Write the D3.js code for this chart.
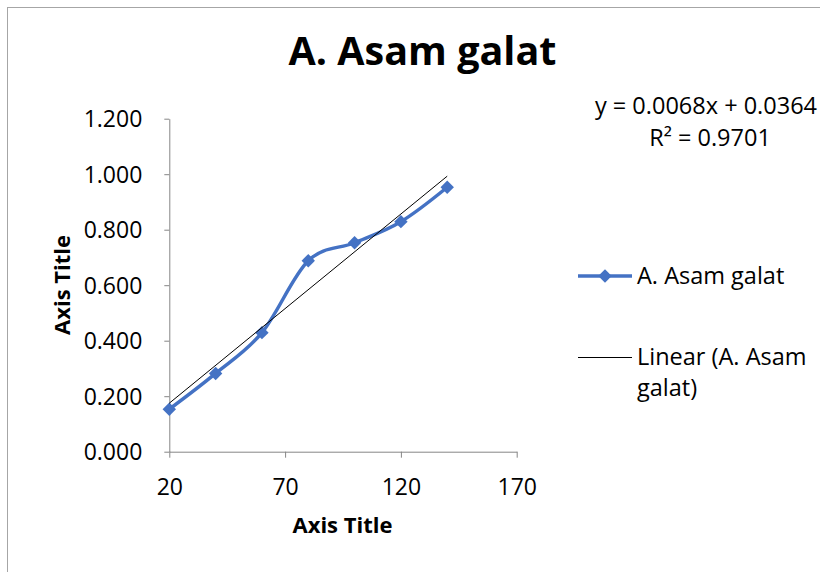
<!DOCTYPE html>
<html>
<head>
<meta charset="utf-8">
<script src="https://cdn.jsdelivr.net/npm/d3@7"></script>
<style>
  html, body { margin: 0; padding: 0; background: #fff; }
  svg { display: block; font-family: "Open Sans", "Noto Sans", sans-serif; }
</style>
</head>
<body>
<svg id="chart" width="820" height="572"></svg>
<script>
// ---- data ----
const xValues = [20, 40, 60, 80, 100, 120, 140];
const yValues = [0.153, 0.282, 0.429, 0.688, 0.753, 0.829, 0.953];
const xTicks = [20, 70, 120, 170];
const yTicks = [0, 0.2, 0.4, 0.6, 0.8, 1.0, 1.2];
const chartTitle = "A. Asam galat";
const seriesName = "A. Asam galat";
const trendName = ["Linear (A. Asam", "galat)"];
const equationText = "y = 0.0068x + 0.0364";
const r2Text = "R² = 0.9701";
const xAxisTitle = "Axis Title";
const yAxisTitle = "Axis Title";

// ---- setup ----
const svg = d3.select("#chart");
const blue = "#4472C4";
const axisColor = "#868686";

// chart border
svg.append("rect")
  .attr("x", 7.5).attr("y", 7.5)
  .attr("width", 830).attr("height", 580)
  .attr("fill", "#fff").attr("stroke", "#a6a6a6").attr("stroke-width", 1);

const x = d3.scaleLinear().domain([20, 170]).range([169.3, 516.7]);
const y = d3.scaleLinear().domain([0, 1.2]).range([451.7, 118.7]);

// title
svg.append("text")
  .attr("x", 422.5).attr("y", 65)
  .attr("text-anchor", "middle")
  .attr("font-weight", "bold").attr("font-size", 39.5)
  .text(chartTitle);

// y axis
const yAxis = svg.append("g")
  .attr("transform", `translate(${x(20)},0)`)
  .call(d3.axisLeft(y).tickValues(yTicks).tickFormat(d3.format(".3f"))
    .tickSize(5).tickSizeOuter(0).tickPadding(22));
yAxis.select(".domain").attr("stroke", axisColor);
yAxis.selectAll(".tick line").attr("stroke", axisColor);
yAxis.selectAll(".tick text").attr("font-size", 23).attr("fill", "#000")
  .attr("font-family", "'Open Sans', sans-serif").attr("dy", "0.35em");

// x axis
const xAxis = svg.append("g")
  .attr("transform", `translate(0,${y(0)})`)
  .call(d3.axisBottom(x).tickValues(xTicks).tickFormat(d3.format("d"))
    .tickSize(6).tickSizeOuter(0).tickPadding(21));
xAxis.select(".domain").attr("stroke", axisColor);
xAxis.selectAll(".tick line").attr("stroke", axisColor);
xAxis.selectAll(".tick text").attr("font-size", 23).attr("fill", "#000")
  .attr("font-family", "'Open Sans', sans-serif");

// axis titles
svg.append("text")
  .attr("x", 342.5).attr("y", 533)
  .attr("text-anchor", "middle")
  .attr("font-weight", "bold").attr("font-size", 22)
  .text(xAxisTitle);
svg.append("text")
  .attr("transform", "translate(70,285) rotate(-90)")
  .attr("text-anchor", "middle")
  .attr("font-weight", "bold").attr("font-size", 22)
  .text(yAxisTitle);

// linear trendline (least squares from data)
const n = xValues.length;
const mx = d3.mean(xValues), my = d3.mean(yValues);
let sxy = 0, sxx = 0;
for (let i = 0; i < n; i++) { sxy += (xValues[i] - mx) * (yValues[i] - my); sxx += (xValues[i] - mx) ** 2; }
const slope = sxy / sxx, intercept = my - slope * mx;
const xr = d3.extent(xValues);

// series
const pts = xValues.map((v, i) => [v, yValues[i]]);
svg.append("path")
  .datum(pts)
  .attr("fill", "none").attr("stroke", blue).attr("stroke-width", 3.5)
  .attr("stroke-linejoin", "round").attr("stroke-linecap", "round")
  .attr("d", d3.line().x(d => x(d[0])).y(d => y(d[1])).curve(d3.curveCardinal.tension(0)));

const marker = d3.symbol().type(d3.symbolSquare).size(90);
svg.selectAll(".pt").data(pts).join("path")
  .attr("class", "pt")
  .attr("transform", d => `translate(${x(d[0])},${y(d[1])}) rotate(45)`)
  .attr("d", marker)
  .attr("fill", blue);

svg.append("line")
  .attr("x1", x(xr[0])).attr("y1", y(slope * xr[0] + intercept))
  .attr("x2", x(xr[1])).attr("y2", y(slope * xr[1] + intercept))
  .attr("stroke", "#000").attr("stroke-width", 1);

// equation
svg.append("text").attr("x", 706).attr("y", 114).attr("text-anchor", "middle")
  .attr("font-size", 23.5).text(equationText);
svg.append("text").attr("x", 710).attr("y", 146).attr("text-anchor", "middle")
  .attr("font-size", 23.5).text(r2Text);

// legend
const lg = svg.append("g");
lg.append("line").attr("x1", 578).attr("x2", 632).attr("y1", 276).attr("y2", 276)
  .attr("stroke", blue).attr("stroke-width", 3.5);
lg.append("path").attr("transform", "translate(605,276) rotate(45)")
  .attr("d", marker).attr("fill", blue);
lg.append("text").attr("x", 637).attr("y", 284).attr("font-size", 23.5).text(seriesName);
lg.append("line").attr("x1", 578).attr("x2", 632).attr("y1", 357.5).attr("y2", 357.5)
  .attr("stroke", "#000").attr("stroke-width", 1);
lg.append("text").attr("x", 637).attr("y", 365).attr("font-size", 23.5).text(trendName[0]);
lg.append("text").attr("x", 637).attr("y", 396).attr("font-size", 23.5).text(trendName[1]);
</script>
</body>
</html>
